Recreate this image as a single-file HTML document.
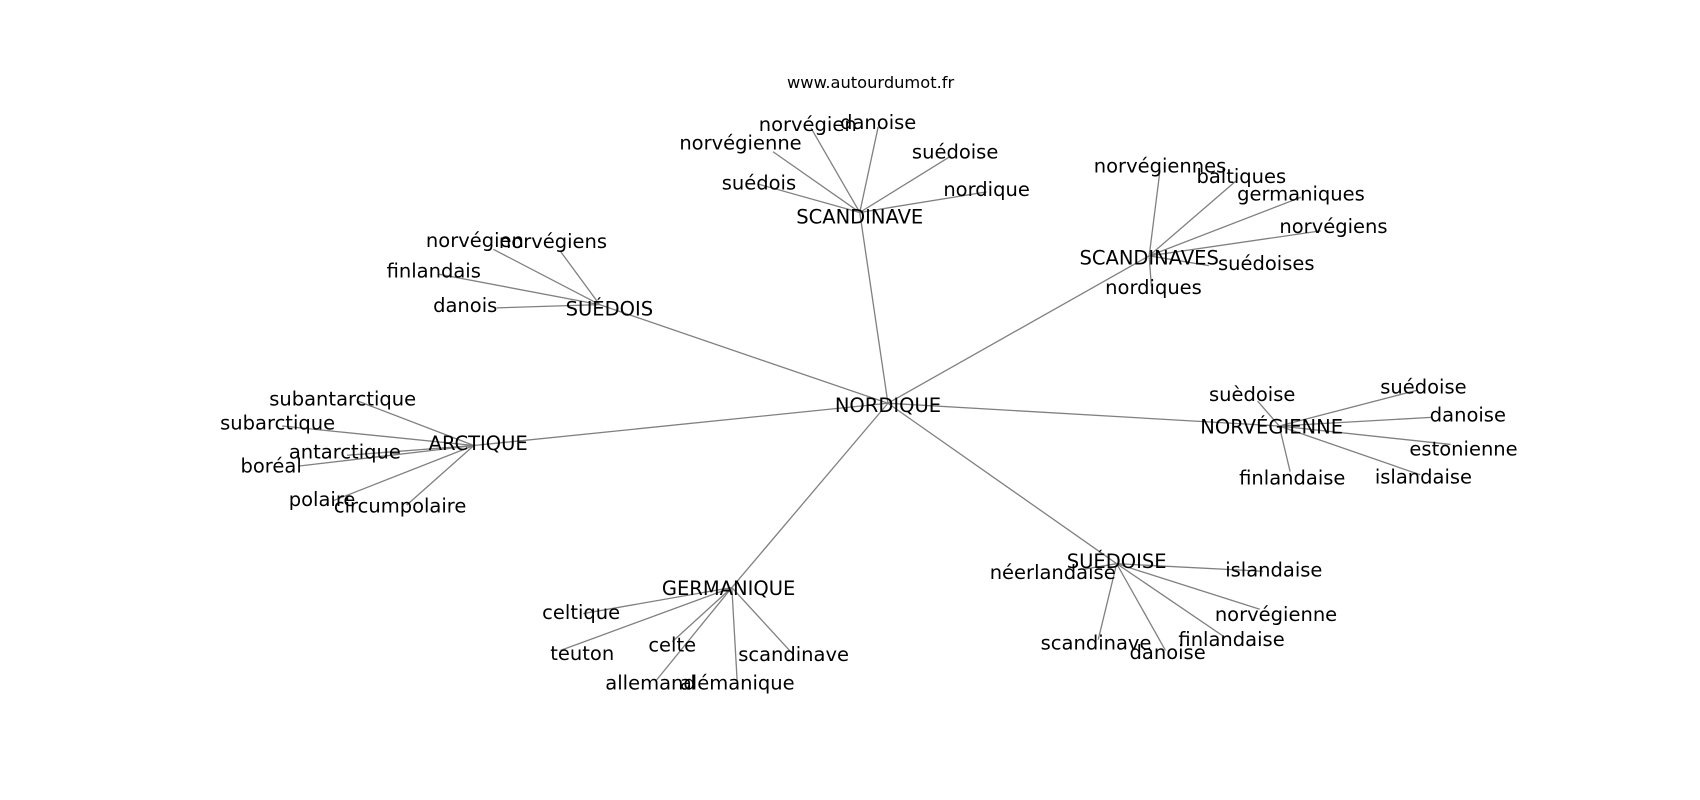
<!DOCTYPE html>
<html><head><meta charset="utf-8"><style>
html,body{margin:0;padding:0;background:#fff;}
svg{display:block;}
svg text{font-family:"DejaVu Sans","Liberation Sans",sans-serif;font-size:18px;fill:#000;text-anchor:middle;dominant-baseline:central;}
svg line{stroke:#808080;stroke-width:1.2;}
</style></head><body>
<svg width="1700" height="800" viewBox="0 0 1568 738" xmlns="http://www.w3.org/2000/svg">
<g>
<line x1="819" y1="372" x2="793" y2="196"/>
<line x1="819" y1="372" x2="1060" y2="236"/>
<line x1="819" y1="372" x2="553" y2="281"/>
<line x1="819" y1="372" x2="437" y2="411"/>
<line x1="819" y1="372" x2="1180" y2="393"/>
<line x1="819" y1="372" x2="1030" y2="520"/>
<line x1="819" y1="372" x2="675" y2="542"/>

<line x1="793" y1="196" x2="748" y2="118"/>
<line x1="793" y1="196" x2="810" y2="117"/>
<line x1="793" y1="196" x2="713" y2="140"/>
<line x1="793" y1="196" x2="700" y2="170"/>
<line x1="793" y1="196" x2="877" y2="144"/>
<line x1="793" y1="196" x2="910" y2="177"/>

<line x1="1060" y1="236" x2="1070" y2="157"/>
<line x1="1060" y1="236" x2="1140" y2="167"/>
<line x1="1060" y1="236" x2="1200" y2="182"/>
<line x1="1060" y1="236" x2="1218" y2="213"/>
<line x1="1060" y1="236" x2="1115" y2="245"/>
<line x1="1060" y1="236" x2="1062" y2="264"/>

<line x1="553" y1="281" x2="455" y2="230"/>
<line x1="553" y1="281" x2="517" y2="232"/>
<line x1="553" y1="281" x2="405" y2="253"/>
<line x1="553" y1="281" x2="458" y2="284"/>

<line x1="437" y1="411" x2="330" y2="370"/>
<line x1="437" y1="411" x2="260" y2="393"/>
<line x1="437" y1="411" x2="320" y2="420"/>
<line x1="437" y1="411" x2="275" y2="430"/>
<line x1="437" y1="411" x2="307" y2="462"/>
<line x1="437" y1="411" x2="375" y2="466"/>

<line x1="1180" y1="393" x2="1160" y2="370"/>
<line x1="1180" y1="393" x2="1307" y2="360"/>
<line x1="1180" y1="393" x2="1320" y2="385"/>
<line x1="1180" y1="393" x2="1338" y2="410"/>
<line x1="1180" y1="393" x2="1310" y2="438"/>
<line x1="1180" y1="393" x2="1190" y2="435"/>

<line x1="1030" y1="520" x2="1000" y2="525"/>
<line x1="1030" y1="520" x2="1165" y2="527"/>
<line x1="1030" y1="520" x2="1162" y2="562"/>
<line x1="1030" y1="520" x2="1130" y2="588"/>
<line x1="1030" y1="520" x2="1075" y2="600"/>
<line x1="1030" y1="520" x2="1013" y2="590"/>

<line x1="675" y1="542" x2="538" y2="566"/>
<line x1="675" y1="542" x2="517" y2="600"/>
<line x1="675" y1="542" x2="620" y2="592"/>
<line x1="675" y1="542" x2="730" y2="602"/>
<line x1="675" y1="542" x2="605" y2="628"/>
<line x1="675" y1="542" x2="680" y2="630"/>
</g>
<text x="803" y="76" style="font-size:15px">www.autourdumot.fr</text>

<text x="819" y="374">NORDIQUE</text>
<text x="793" y="200">SCANDINAVE</text>
<text x="1060" y="238">SCANDINAVES</text>
<text x="562" y="285">SUÉDOIS</text>
<text x="441" y="409">ARCTIQUE</text>
<text x="1173" y="394">NORVÉGIENNE</text>
<text x="1030" y="518">SUÉDOISE</text>
<text x="672" y="543">GERMANIQUE</text>

<text x="745" y="115">norvégien</text>
<text x="810" y="113">danoise</text>
<text x="683" y="132">norvégienne</text>
<text x="700" y="169">suédois</text>
<text x="881" y="140">suédoise</text>
<text x="910" y="175">nordique</text>

<text x="1070" y="153">norvégiennes</text>
<text x="1145" y="163">baltiques</text>
<text x="1200" y="179">germaniques</text>
<text x="1230" y="209">norvégiens</text>
<text x="1168" y="243">suédoises</text>
<text x="1064" y="265">nordiques</text>

<text x="438" y="222">norvégien</text>
<text x="510" y="223">norvégiens</text>
<text x="400" y="250">finlandais</text>
<text x="429" y="282">danois</text>

<text x="316" y="368">subantarctique</text>
<text x="256" y="390">subarctique</text>
<text x="318" y="417">antarctique</text>
<text x="250" y="430">boréal</text>
<text x="297" y="461">polaire</text>
<text x="369" y="467">circumpolaire</text>

<text x="1155" y="364">suèdoise</text>
<text x="1313" y="357">suédoise</text>
<text x="1354" y="383">danoise</text>
<text x="1350" y="414">estonienne</text>
<text x="1313" y="440">islandaise</text>
<text x="1192" y="441">finlandaise</text>

<text x="971" y="528">néerlandaise</text>
<text x="1175" y="526">islandaise</text>
<text x="1177" y="567">norvégienne</text>
<text x="1136" y="590">finlandaise</text>
<text x="1077" y="602">danoise</text>
<text x="1011" y="593">scandinave</text>

<text x="536" y="565">celtique</text>
<text x="537" y="603">teuton</text>
<text x="620" y="595">celte</text>
<text x="732" y="604">scandinave</text>
<text x="600" y="630">allemand</text>
<text x="680" y="630">alémanique</text>
</svg>
</body></html>
